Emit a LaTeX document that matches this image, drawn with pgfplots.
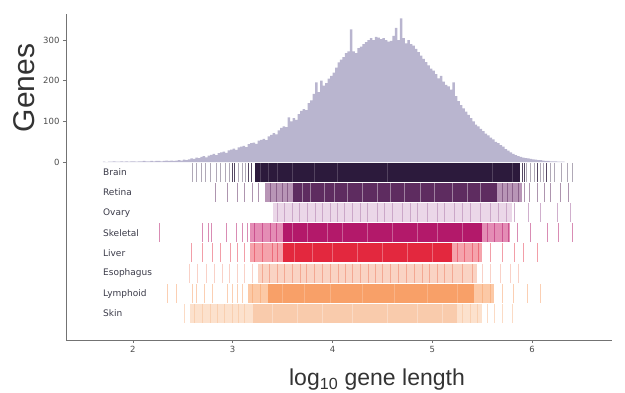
\documentclass[border=0pt]{standalone}
\usepackage{fontspec}
\setmainfont{Liberation Sans}
\newfontfamily\dejavu{DejaVu Sans}
\usepackage{pgfplots}
\pgfplotsset{compat=1.18}
\definecolor{histc}{HTML}{B9B5CF}
\definecolor{brainC}{HTML}{2C1A3C}
\definecolor{brainL}{HTML}{8E8499}
\definecolor{retC}{HTML}{5E2C60}
\definecolor{retL}{HTML}{B895B6}
\definecolor{ovaC}{HTML}{C49BC0}
\definecolor{ovaL}{HTML}{EBD7E8}
\definecolor{skeC}{HTML}{B3196A}
\definecolor{skeL}{HTML}{E48DB5}
\definecolor{livC}{HTML}{E3283E}
\definecolor{livL}{HTML}{F5A3AC}
\definecolor{esoC}{HTML}{F29A82}
\definecolor{esoL}{HTML}{FAD3C3}
\definecolor{lymC}{HTML}{F8A068}
\definecolor{lymL}{HTML}{FCC9A6}
\definecolor{skiC}{HTML}{F8C39E}
\definecolor{skiL}{HTML}{FCE1CD}
\definecolor{txt}{HTML}{3A3A48}
\pgfplotsset{
  rug/.style={only marks, mark=|, mark size=9.5pt, mark options={line width=1.1pt}},
}
\pgfplotstableread{
x y
1.700 0
1.700 1
1.725 0
1.750 1
1.775 1
1.800 2
1.825 1
1.850 1
1.875 2
1.900 1
1.925 2
1.950 1
1.975 2
2.000 2
2.025 1
2.050 2
2.075 2
2.100 3
2.125 2
2.150 2
2.175 3
2.200 2
2.225 3
2.250 3
2.275 2
2.300 3
2.325 4
2.350 3
2.375 4
2.400 3
2.425 4
2.450 5
2.475 4
2.500 6
2.525 5
2.550 7
2.575 9
2.600 8
2.625 11
2.650 10
2.675 13
2.700 15
2.725 12
2.750 16
2.775 18
2.800 20
2.825 17
2.850 22
2.875 24
2.900 26
2.925 23
2.950 29
2.975 31
3.000 33
3.025 30
3.050 36
3.075 38
3.100 40
3.125 37
3.150 44
3.175 47
3.200 48
3.225 45
3.250 53
3.275 55
3.300 57
3.325 54
3.350 63
3.375 67
3.400 71
3.425 68
3.450 78
3.475 84
3.500 88
3.525 86
3.550 110
3.575 100
3.600 108
3.625 104
3.650 118
3.675 126
3.700 130
3.725 128
3.750 145
3.775 152
3.800 168
3.825 196
3.850 172
3.875 200
3.900 188
3.925 194
3.950 205
3.975 212
4.000 220
4.025 232
4.050 245
4.075 252
4.100 258
4.125 268
4.150 272
4.175 326
4.200 272
4.225 268
4.250 280
4.275 284
4.300 290
4.325 295
4.350 300
4.375 305
4.400 300
4.425 308
4.450 306
4.475 302
4.500 305
4.525 300
4.550 296
4.575 298
4.600 310
4.625 330
4.650 300
4.675 353
4.700 305
4.725 292
4.750 300
4.775 290
4.800 286
4.825 278
4.850 270
4.875 262
4.900 254
4.925 246
4.950 238
4.975 230
5.000 225
5.025 216
5.050 206
5.075 212
5.100 198
5.125 190
5.150 186
5.175 178
5.200 196
5.225 162
5.250 150
5.275 140
5.300 132
5.325 124
5.350 116
5.375 108
5.400 100
5.425 92
5.450 88
5.475 82
5.500 76
5.525 70
5.550 66
5.575 60
5.600 56
5.625 50
5.650 47
5.675 42
5.700 38
5.725 32
5.750 28
5.775 24
5.800 20
5.825 17
5.850 15
5.875 13
5.900 11
5.925 10
5.950 9
5.975 8
6.000 7
6.025 6
6.050 5
6.075 5
6.100 4
6.125 3
6.150 3
6.175 2
6.200 2
6.225 2
6.250 1
6.275 1
6.300 1
6.325 0
}\histtable
\begin{document}
\begin{tikzpicture}
\path[use as bounding box] (-66pt,-53pt) rectangle (559pt,340pt);
\begin{axis}[
  at={(0pt,0pt)}, anchor=south west,
  scale only axis, width=546pt, height=326pt,
  xmin=1.33, xmax=6.80, ymin=-437, ymax=364,
  axis x line*=bottom, axis y line*=left,
  xtick={2,3,4,5,6}, ytick={0,100,200,300},
  tick align=outside, major tick length=3pt,
  tick style={color=black!55, line width=0.6pt},
  axis line style={black!55, line width=0.8pt},
  ticklabel style={font=\dejavu\fontsize{8.5}{10}\selectfont, text=black!70},
  /pgf/number format/assume math mode=true,
  clip=false,
]
% histogram
\addplot[const plot, fill=histc, draw=none] table[x=x,y=y] {\histtable};

% ---------- Brain (y=-25)
\addplot[fill=brainC, draw=none] coordinates {(3.22,-2) (5.88,-2) (5.88,-48) (3.22,-48)};
\addplot[rug, color=brainL, opacity=0.7] coordinates {(2.60,-25) (2.64,-25) (2.69,-25) (2.73,-25) (2.78,-25) (2.84,-25) (2.88,-25) (2.93,-25) (2.97,-25) (3.06,-25) (3.10,-25) (3.13,-25) (5.94,-25) (5.98,-25) (6.02,-25) (6.08,-25) (6.11,-25) (6.18,-25) (6.22,-25) (6.29,-25) (6.35,-25) (6.40,-25)};
\addplot[rug, color=brainC, opacity=0.8] coordinates {(3.00,-25) (3.02,-25) (3.16,-25) (3.19,-25) (5.90,-25) (5.92,-25) (6.05,-25) (6.14,-25)};
\addplot[rug, color=white, opacity=0.18] coordinates {(3.28,-25) (3.36,-25) (3.45,-25) (3.60,-25) (3.82,-25) (4.05,-25) (4.55,-25) (5.60,-25) (5.80,-25)};

% ---------- Retina (y=-74.6)
\addplot[fill=retL, draw=none] coordinates {(3.32,-51.3) (5.90,-51.3) (5.90,-97.9) (3.32,-97.9)};
\addplot[fill=retC, draw=none] coordinates {(3.60,-51.3) (5.65,-51.3) (5.65,-97.9) (3.60,-97.9)};
\addplot[rug, color=retC, opacity=0.5] coordinates {(2.83,-74.6) (2.95,-74.6) (3.05,-74.6) (3.12,-74.6) (3.20,-74.6) (3.26,-74.6) (3.38,-74.6) (3.44,-74.6) (3.50,-74.6) (3.55,-74.6) (5.70,-74.6) (5.75,-74.6) (5.80,-74.6) (5.86,-74.6) (5.92,-74.6) (5.97,-74.6) (6.05,-74.6) (6.12,-74.6) (6.18,-74.6) (6.28,-74.6) (6.36,-74.6)};
\addplot[rug, color=white, opacity=0.4] coordinates {(3.70,-74.6) (3.78,-74.6) (3.92,-74.6) (4.02,-74.6) (4.15,-74.6) (4.30,-74.6) (4.45,-74.6) (4.58,-74.6) (4.72,-74.6) (4.88,-74.6) (5.02,-74.6) (5.20,-74.6) (5.35,-74.6) (5.48,-74.6)};

% ---------- Ovary (y=-124)
\addplot[fill=ovaL, draw=none] coordinates {(3.40,-100.7) (5.80,-100.7) (5.80,-147.3) (3.40,-147.3)};
\addplot[rug, color=ovaC, opacity=0.8] coordinates {(3.45,-124) (3.52,-124) (3.60,-124) (3.67,-124) (3.75,-124) (3.83,-124) (3.90,-124) (3.98,-124) (4.05,-124) (4.12,-124) (4.20,-124) (4.28,-124) (4.35,-124) (4.45,-124) (4.52,-124) (4.60,-124) (4.70,-124) (4.78,-124) (4.85,-124) (4.95,-124) (5.05,-124) (5.12,-124) (5.22,-124) (5.30,-124) (5.38,-124) (5.48,-124) (5.58,-124) (5.66,-124) (5.74,-124) (5.82,-124) (5.96,-124) (6.08,-124) (6.25,-124) (6.38,-124)};

% ---------- Skeletal (y=-174)
\addplot[fill=skeL, draw=none] coordinates {(3.17,-150.7) (5.78,-150.7) (5.78,-197.3) (3.17,-197.3)};
\addplot[fill=skeC, draw=none] coordinates {(3.50,-150.7) (5.50,-150.7) (5.50,-197.3) (3.50,-197.3)};
\addplot[rug, color=skeC, opacity=0.5] coordinates {(2.27,-174) (2.70,-174) (2.76,-174) (2.79,-174) (2.94,-174) (3.04,-174) (3.10,-174) (3.15,-174) (3.22,-174) (3.30,-174) (3.38,-174) (3.44,-174) (5.55,-174) (5.62,-174) (5.70,-174) (5.76,-174) (5.85,-174) (5.98,-174) (6.15,-174) (6.26,-174) (6.40,-174)};
\addplot[rug, color=white, opacity=0.3] coordinates {(3.60,-174) (3.75,-174) (3.95,-174) (4.10,-174) (4.35,-174) (4.60,-174) (4.85,-174) (5.05,-174) (5.30,-174)};

% ---------- Liver (y=-223)
\addplot[fill=livL, draw=none] coordinates {(3.17,-199.7) (5.50,-199.7) (5.50,-246.3) (3.17,-246.3)};
\addplot[fill=livC, draw=none] coordinates {(3.50,-199.7) (5.20,-199.7) (5.20,-246.3) (3.50,-246.3)};
\addplot[rug, color=livC, opacity=0.45] coordinates {(2.59,-223) (2.70,-223) (2.80,-223) (2.88,-223) (2.98,-223) (3.05,-223) (3.12,-223) (3.22,-223) (3.30,-223) (3.40,-223) (3.45,-223) (5.25,-223) (5.32,-223) (5.40,-223) (5.46,-223) (5.58,-223) (5.70,-223) (5.82,-223) (5.91,-223) (6.05,-223)};
\addplot[rug, color=white, opacity=0.3] coordinates {(3.62,-223) (3.80,-223) (4.00,-223) (4.25,-223) (4.50,-223) (4.75,-223) (5.00,-223)};

% ---------- Esophagus (y=-273)
\addplot[fill=esoL, draw=none] coordinates {(3.25,-249.7) (5.45,-249.7) (5.45,-296.3) (3.25,-296.3)};
\addplot[rug, color=esoC, opacity=0.45] coordinates {(2.57,-273) (2.65,-273) (2.74,-273) (2.82,-273) (2.90,-273) (2.97,-273) (3.05,-273) (3.12,-273) (3.20,-273) (5.50,-273) (5.58,-273) (5.68,-273) (5.78,-273) (5.86,-273)};
\addplot[rug, color=esoC, opacity=0.75] coordinates {(3.30,-273) (3.37,-273) (3.45,-273) (3.52,-273) (3.60,-273) (3.68,-273) (3.74,-273) (3.82,-273) (3.90,-273) (3.98,-273) (4.06,-273) (4.13,-273) (4.20,-273) (4.28,-273) (4.36,-273) (4.43,-273) (4.50,-273) (4.58,-273) (4.66,-273) (4.74,-273) (4.82,-273) (4.90,-273) (4.97,-273) (5.05,-273) (5.12,-273) (5.20,-273) (5.30,-273) (5.40,-273)};

% ---------- Lymphoid (y=-323)
\addplot[fill=lymL, draw=none] coordinates {(3.15,-299.7) (5.62,-299.7) (5.62,-346.3) (3.15,-346.3)};
\addplot[fill=lymC, draw=none] coordinates {(3.35,-299.7) (5.42,-299.7) (5.42,-346.3) (3.35,-346.3)};
\addplot[rug, color=lymC, opacity=0.5] coordinates {(2.35,-323) (2.44,-323) (2.60,-323) (2.64,-323) (2.72,-323) (2.80,-323) (2.95,-323) (3.00,-323) (3.05,-323) (3.10,-323) (3.20,-323) (3.28,-323) (5.50,-323) (5.58,-323) (5.70,-323) (5.81,-323) (5.95,-323) (6.08,-323)};
\addplot[rug, color=white, opacity=0.2] coordinates {(3.50,-323) (3.72,-323) (3.98,-323) (4.30,-323) (4.62,-323) (4.95,-323) (5.25,-323)};

% ---------- Skin (y=-372)
\addplot[fill=skiL, draw=none] coordinates {(2.57,-349) (5.50,-349) (5.50,-395) (2.57,-395)};
\addplot[fill=skiC, draw=none, opacity=0.7] coordinates {(3.20,-349) (5.25,-349) (5.25,-395) (3.20,-395)};
\addplot[rug, color=skiC, opacity=0.6] coordinates {(2.52,-372) (2.62,-372) (2.70,-372) (2.78,-372) (2.85,-372) (2.92,-372) (3.00,-372) (3.06,-372) (3.12,-372) (5.30,-372) (5.38,-372) (5.45,-372) (5.55,-372) (5.62,-372) (5.70,-372) (5.80,-372)};
\addplot[rug, color=white, opacity=0.3] coordinates {(3.40,-372) (3.65,-372) (3.90,-372) (4.20,-372) (4.55,-372) (4.85,-372) (5.10,-372)};

% tissue labels
\foreach \lab/\yy in {Brain/-25, Retina/-74.6, Ovary/-124, Skeletal/-174, Liver/-223, Esophagus/-273, Lymphoid/-323, Skin/-372}{
  \edef\tmp{\noexpand\node[anchor=west, inner sep=0pt, text=txt, font=\noexpand\dejavu\noexpand\fontsize{9}{10}\noexpand\selectfont] at (axis cs:1.70,\yy) {\lab};}
  \tmp
}
\end{axis}
\node[rotate=90, text=black!80, font=\fontsize{30}{32}\selectfont] at (-42pt,252pt) {Genes};
\node[anchor=base, text=black!80, font=\fontsize{23}{25}\selectfont] at (311pt,-46pt) {log\textsubscript{10} gene length};
\end{tikzpicture}
\end{document}
